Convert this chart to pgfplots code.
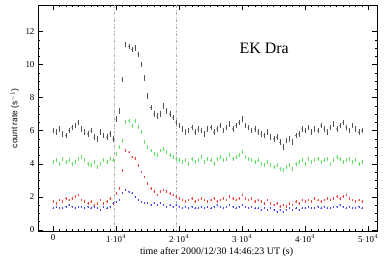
\documentclass[border=0pt]{standalone}
\usepackage{fontspec}
\setmainfont{Liberation Serif}
\setsansfont{Liberation Sans}
\usepackage{pgfplots}
\usepackage{pgfplotstable}
\pgfplotsset{compat=1.18}
\usetikzlibrary{calc}
\definecolor{cK}{HTML}{555555}
\definecolor{cG}{HTML}{66E066}
\definecolor{cR}{HTML}{F04848}
\definecolor{cB}{HTML}{4848F0}
\pgfplotstableread{
t k g r b
0 6.0 4.1 1.7 1.3
500 5.9 4.2 1.6 1.4
1000 6.1 4.0 1.8 1.3
1500 5.8 4.3 1.7 1.3
2000 5.7 4.1 1.9 1.4
2500 6.0 4.2 1.8 1.5
3000 6.2 4.0 1.9 1.4
3500 6.3 4.1 2.0 1.3
4000 6.5 4.3 2.1 1.4
4500 6.1 4.4 1.8 1.4
5000 5.9 4.2 1.7 1.3
5500 5.8 4.0 1.6 1.4
6000 6.0 3.9 1.7 1.3
6500 5.6 4.1 1.5 1.4
7000 5.5 3.8 1.6 1.3
7500 5.9 4.0 1.8 1.2
8000 5.7 4.2 1.6 1.4
8500 5.6 4.1 1.7 1.3
9000 5.8 4.3 1.9 1.4
9500 5.5 4.2 1.6 1.6
10000 6.7 4.6 2.2 1.7
10500 7.2 5.0 2.5 1.8
11000 9.1 5.4 3.6 2.2
11500 11.2 6.5 4.8 2.4
12000 11.1 6.6 4.7 2.3
12500 10.9 6.3 4.4 2.2
13000 11.0 6.6 4.3 2.0
13500 10.6 6.2 3.9 1.8
14000 10.0 5.9 3.5 1.7
14500 9.2 5.3 3.2 1.6
15000 8.1 5.0 2.8 1.6
15500 7.4 4.8 2.5 1.5
16000 7.0 4.6 2.3 1.6
16500 6.9 4.5 2.1 1.5
17000 7.0 4.8 2.3 1.6
17500 7.5 4.9 2.4 1.5
18000 7.2 4.7 2.3 1.4
18500 7.0 4.5 2.2 1.5
19000 6.8 4.4 2.1 1.4
19500 6.5 4.3 2.0 1.5
20000 6.3 4.2 1.9 1.4
20500 6.1 4.1 1.8 1.3
21000 5.9 4.2 1.7 1.4
21500 6.0 4.0 1.8 1.3
22000 6.2 4.3 1.9 1.4
22500 5.9 4.1 1.7 1.3
23000 6.1 4.2 1.8 1.3
23500 6.0 4.4 1.9 1.4
24000 5.8 4.1 1.8 1.3
24500 6.1 4.3 1.7 1.4
25000 6.2 4.2 1.8 1.3
25500 5.9 4.0 1.9 1.4
26000 6.1 4.3 1.7 1.5
26500 6.3 4.4 1.8 1.4
27000 6.0 4.2 1.9 1.3
27500 6.2 4.3 1.8 1.4
28000 6.4 4.5 2.0 1.5
28500 6.1 4.3 1.9 1.4
29000 6.3 4.4 1.8 1.3
29500 6.5 4.5 1.9 1.4
30000 6.7 4.7 2.1 1.5
30500 6.3 4.4 1.9 1.4
31000 6.2 4.3 1.8 1.3
31500 6.0 4.2 1.9 1.4
32000 6.1 4.1 1.7 1.3
32500 5.9 4.2 1.8 1.3
33000 5.8 4.0 1.7 1.2
33500 5.7 3.9 1.6 1.3
34000 5.9 4.1 1.8 1.2
34500 5.6 3.9 1.6 1.3
35000 5.5 3.8 1.5 1.2
35500 5.6 3.9 1.6 1.1
36000 5.3 3.7 1.4 1.2
36500 5.0 3.6 1.5 1.1
37000 5.4 3.8 1.4 1.2
37500 5.5 3.9 1.6 1.3
38000 5.3 3.7 1.5 1.2
38500 5.7 4.0 1.7 1.3
39000 5.8 4.1 1.6 1.2
39500 6.1 4.2 1.8 1.3
40000 6.0 4.0 1.7 1.3
40500 6.2 4.3 1.8 1.4
41000 5.9 4.1 1.7 1.3
41500 6.1 4.2 1.9 1.3
42000 6.0 4.3 1.8 1.4
42500 6.3 4.1 1.7 1.3
43000 6.1 4.2 1.8 1.4
43500 5.9 4.3 1.9 1.3
44000 6.2 4.0 1.8 1.3
44500 6.4 4.2 1.9 1.4
45000 6.1 4.4 2.0 1.4
45500 6.3 4.3 1.9 1.5
46000 6.5 4.1 2.0 1.4
46500 6.2 4.2 2.1 1.3
47000 6.0 4.3 1.9 1.4
47500 6.3 4.1 1.8 1.3
48000 6.1 4.2 1.7 1.3
48500 5.9 4.0 1.8 1.4
49000 6.0 4.1 1.7 1.3
}\lc
\begin{document}
\begin{tikzpicture}
\begin{axis}[
  scale only axis,
  width=339bp, height=226.5bp,
  xmin=-2400, xmax=51400,
  ymin=-0.1, ymax=13.6,
  axis line style={line width=0.5pt},
  tick style={black, line width=0.4pt},
  tick align=inside,
  major tick length=5bp, minor tick length=2.5bp,
  xtick={0,10000,20000,30000,40000,50000},
  xticklabels={0,1$\cdot$10$^4$,2$\cdot$10$^4$,3$\cdot$10$^4$,4$\cdot$10$^4$,5$\cdot$10$^4$},
  minor x tick num=9,
  ytick={0,2,4,6,8,10,12},
  minor y tick num=3,
  scaled x ticks=false,
  /pgf/number format/assume math mode=true,
  tick label style={font=\fontsize{9}{9}\selectfont},
  xlabel={time after 2000/12/30 14:46:23 UT (s)},
  xlabel style={at={(axis description cs:0.527,-0.09)}, anchor=center, font=\fontsize{10}{10}\selectfont},
  ylabel={count rate (s$^{-1}$)},
  ylabel style={at={(axis description cs:-0.068,0.5)}, anchor=center, font=\sffamily\fontsize{8.5}{8.5}\selectfont},
  clip=true,
]
\addplot[gray!60, line width=0.5pt, dash pattern=on 3pt off 1.5pt on 1pt off 1.5pt] coordinates {(9700,-0.1) (9700,13.6)};
\addplot[gray!60, line width=0.5pt, dash pattern=on 3pt off 1.5pt on 1pt off 1.5pt] coordinates {(19600,-0.1) (19600,13.6)};
\addplot[cK, only marks, mark=*, mark size=0.3pt, error bars/.cd, y dir=both, y fixed=0.17, error mark=none, error bar style={line width=0.3pt, cK}] table[x=t,y=k]{\lc};
\addplot[cG, only marks, mark=*, mark size=0.3pt, error bars/.cd, y dir=both, y fixed=0.12, error mark=none, error bar style={line width=0.3pt, cG}] table[x=t,y=g]{\lc};
\addplot[cR, only marks, mark=*, mark size=0.3pt, error bars/.cd, y dir=both, y fixed=0.08, error mark=none, error bar style={line width=0.3pt, cR}] table[x=t,y=r]{\lc};
\addplot[cB, only marks, mark=*, mark size=0.3pt, error bars/.cd, y dir=both, y fixed=0.06, error mark=none, error bar style={line width=0.3pt, cB}] table[x=t,y=b]{\lc};
\node at (axis cs:33500,11) {\fontsize{16}{16}\selectfont EK Dra};
\end{axis}
\path ($(current axis.south west)+(-38bp,-26.5bp)$) rectangle ($(current axis.north east)+(9bp,5bp)$);
\end{tikzpicture}
\end{document}
